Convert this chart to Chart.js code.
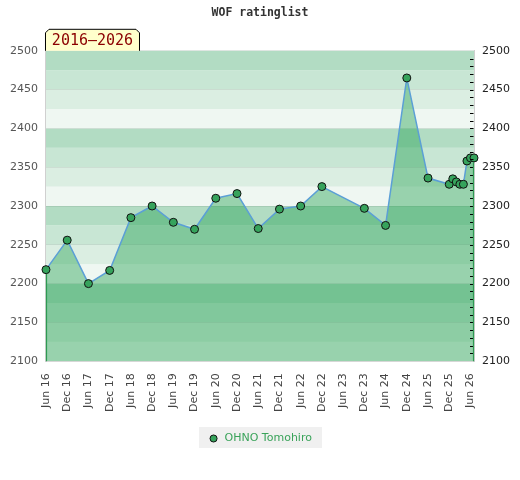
<!DOCTYPE html>
<html>
<head>
<meta charset="utf-8">
<script src="https://cdn.jsdelivr.net/npm/chart.js@4/dist/chart.umd.min.js"></script>
<style>
  html, body { margin: 0; padding: 0; background: #ffffff; }
  #wrap { width: 520px; height: 480px; }
</style>
</head>
<body>
<div id="wrap"><canvas id="c" width="520" height="480"></canvas></div>
<script>
// ---- data ----
const chartTitle = "WOF ratinglist";
const periodLabel = "2016\u20132026";
const seriesName = "OHNO Tomohiro";
// months counted from Jun 2016
const xTickMonths = [0, 6, 12, 18, 24, 30, 36, 42, 48, 54, 60, 66, 72, 78, 84, 90, 96, 102, 108, 114, 120];
const xTickLabels = ["Jun 16", "Dec 16", "Jun 17", "Dec 17", "Jun 18", "Dec 18", "Jun 19", "Dec 19",
  "Jun 20", "Dec 20", "Jun 21", "Dec 21", "Jun 22", "Dec 22", "Jun 23", "Dec 23", "Jun 24", "Dec 24",
  "Jun 25", "Dec 25", "Jun 26"];
const pointMonths = [0, 6, 12, 18, 24, 30, 36, 42, 48, 54, 60, 66, 72, 78, 90, 96, 102, 108,
  114, 115, 116, 117, 118, 119, 120, 121];
const ratings = [2218, 2256, 2200, 2217, 2285, 2300, 2279, 2270, 2310, 2316, 2271, 2296, 2300, 2325,
  2297, 2275, 2465, 2336, 2328, 2335, 2331, 2328, 2328, 2358, 2362, 2362];
const yTicks = [2100, 2150, 2200, 2250, 2300, 2350, 2400, 2450, 2500];

const bandColors = ["#eff7f2", "#dbeee2", "#c8e6d4", "#b2dcc3"]; // within each 100, bottom -> top

const points = pointMonths.map((m, i) => ({ x: m, y: ratings[i] }));

const decorPlugin = {
  id: 'decor',
  beforeDraw(chart) {
    const ctx = chart.ctx;
    const a = chart.chartArea;
    const ys = chart.scales.y;
    ctx.save();
    for (let v = ys.min; v < ys.max; v += 25) {
      const idx = Math.round(((v - ys.min) % 100) / 25);
      const y1 = ys.getPixelForValue(v + 25);
      const y0 = ys.getPixelForValue(v);
      ctx.fillStyle = bandColors[idx];
      ctx.fillRect(a.left, y1, a.right - a.left, y0 - y1);
    }
    // legend background
    const lg = chart.legend;
    if (lg && lg.legendHitBoxes && lg.legendHitBoxes.length) {
      const hb = lg.legendHitBoxes[0];
      ctx.fillStyle = "#f0f0f0";
      ctx.fillRect(hb.left - 9, hb.top - 6, hb.width + 19, hb.height + 10);
    }
    ctx.restore();
  },
  afterDatasetsDraw(chart) {
    const ctx = chart.ctx;
    const a = chart.chartArea;
    const ys = chart.scales.y;
    const xs = chart.scales.x;
    ctx.save();
    // right side inner minor ticks
    ctx.strokeStyle = "#000";
    ctx.lineWidth = 1;
    ctx.beginPath();
    for (let v = ys.min + 10; v < ys.max; v += 10) {
      const y = Math.round(ys.getPixelForValue(v)) + 0.5;
      ctx.moveTo(a.right - 4, y);
      ctx.lineTo(a.right - 0.5, y);
    }
    ctx.stroke();
    // vertical edges of area fill
    ctx.strokeStyle = "#2e9a52";
    ctx.lineWidth = 1.2;
    const first = points[0], last = points[points.length - 1];
    ctx.beginPath();
    const fx = xs.getPixelForValue(first.x) + 0.5;
    ctx.moveTo(fx, ys.getPixelForValue(first.y) + 4);
    ctx.lineTo(fx, a.bottom);
    const lx = xs.getPixelForValue(last.x) - 0.5;
    ctx.moveTo(lx, ys.getPixelForValue(last.y) + 4);
    ctx.lineTo(lx, a.bottom);
    ctx.stroke();
    ctx.restore();
  },
  afterDraw(chart) {
    const ctx = chart.ctx;
    const a = chart.chartArea;
    ctx.save();
    // period label box
    const l = a.left - 1, r = l + 95, t = a.top - 22, b = a.top, c = 4;
    ctx.beginPath();
    ctx.moveTo(l + 0.5, b);
    ctx.lineTo(l + 0.5, t + c);
    ctx.lineTo(l + c, t + 0.5);
    ctx.lineTo(r - c, t + 0.5);
    ctx.lineTo(r - 0.5, t + c);
    ctx.lineTo(r - 0.5, b);
    ctx.fillStyle = "#ffffcc";
    ctx.fill();
    ctx.strokeStyle = "#000";
    ctx.lineWidth = 1;
    ctx.stroke();
    ctx.fillStyle = "#8b0000";
    ctx.font = "15px 'DejaVu Sans Mono'";
    ctx.textAlign = "center";
    ctx.textBaseline = "middle";
    ctx.fillText(periodLabel, (l + r) / 2, (t + b) / 2 + 1);
    ctx.restore();
  }
};

new Chart(document.getElementById('c'), {
  type: 'line',
  data: {
    datasets: [{
      label: seriesName,
      data: points,
      fill: 'start',
      backgroundColor: 'rgba(30,158,75,0.41)',
      borderColor: '#5b9fd6',
      borderWidth: 1.5,
      tension: 0,
      pointRadius: 4,
      pointHoverRadius: 4,
      pointBackgroundColor: '#36a35c',
      pointBorderColor: '#111',
      pointBorderWidth: 1,
      clip: false
    }]
  },
  options: {
    responsive: false,
    animation: false,
    events: [],
    layout: { padding: { left: 2, right: 2, top: 0, bottom: 26 } },
    plugins: {
      title: {
        display: true,
        text: chartTitle,
        color: '#333',
        font: { family: 'DejaVu Sans Mono', size: 11.5, weight: 'bold' },
        padding: { top: 6, bottom: 31 }
      },
      legend: {
        display: true,
        position: 'bottom',
        labels: {
          usePointStyle: true,
          pointStyle: 'circle',
          boxWidth: 11,
          boxHeight: 5,
          color: '#3aa35a',
          font: { family: 'DejaVu Sans', size: 11 },
          padding: 10
        }
      },
      tooltip: { enabled: false }
    },
    scales: {
      x: {
        type: 'linear',
        min: 0,
        max: 121,
        afterBuildTicks: (s) => { s.ticks = xTickMonths.map(v => ({ value: v })); },
        afterFit: (s) => { s.height -= 1; s.paddingLeft = 0; s.paddingRight = 0; },
        ticks: {
          autoSkip: false,
          minRotation: 90,
          maxRotation: 90,
          color: '#444',
          font: { family: 'DejaVu Sans', size: 11 },
          padding: 12,
          callback: (v) => { const i = xTickMonths.indexOf(v); return i >= 0 ? xTickLabels[i] : ''; }
        },
        grid: { drawOnChartArea: false, drawTicks: false },
        border: { display: true, color: '#d8d8d8' }
      },
      y: {
        position: 'left',
        min: 2100,
        max: 2500,
        afterBuildTicks: (s) => { s.ticks = yTicks.map(v => ({ value: v })); },
        ticks: {
          color: '#555',
          font: { family: 'DejaVu Sans', size: 11 },
          padding: 8,
          callback: (v) => String(v)
        },
        grid: { color: 'rgba(0,0,0,0.07)', drawTicks: false },
        border: { display: true, color: '#d0d0d0' }
      },
      y2: {
        position: 'right',
        min: 2100,
        max: 2500,
        afterBuildTicks: (s) => { s.ticks = yTicks.map(v => ({ value: v })); },
        ticks: {
          color: '#222',
          font: { family: 'DejaVu Sans', size: 11 },
          padding: 8,
          callback: (v) => String(v)
        },
        grid: { drawOnChartArea: false, drawTicks: false },
        border: { display: true, color: '#d0d0d0' }
      }
    }
  },
  plugins: [decorPlugin]
});
</script>
</body>
</html>
